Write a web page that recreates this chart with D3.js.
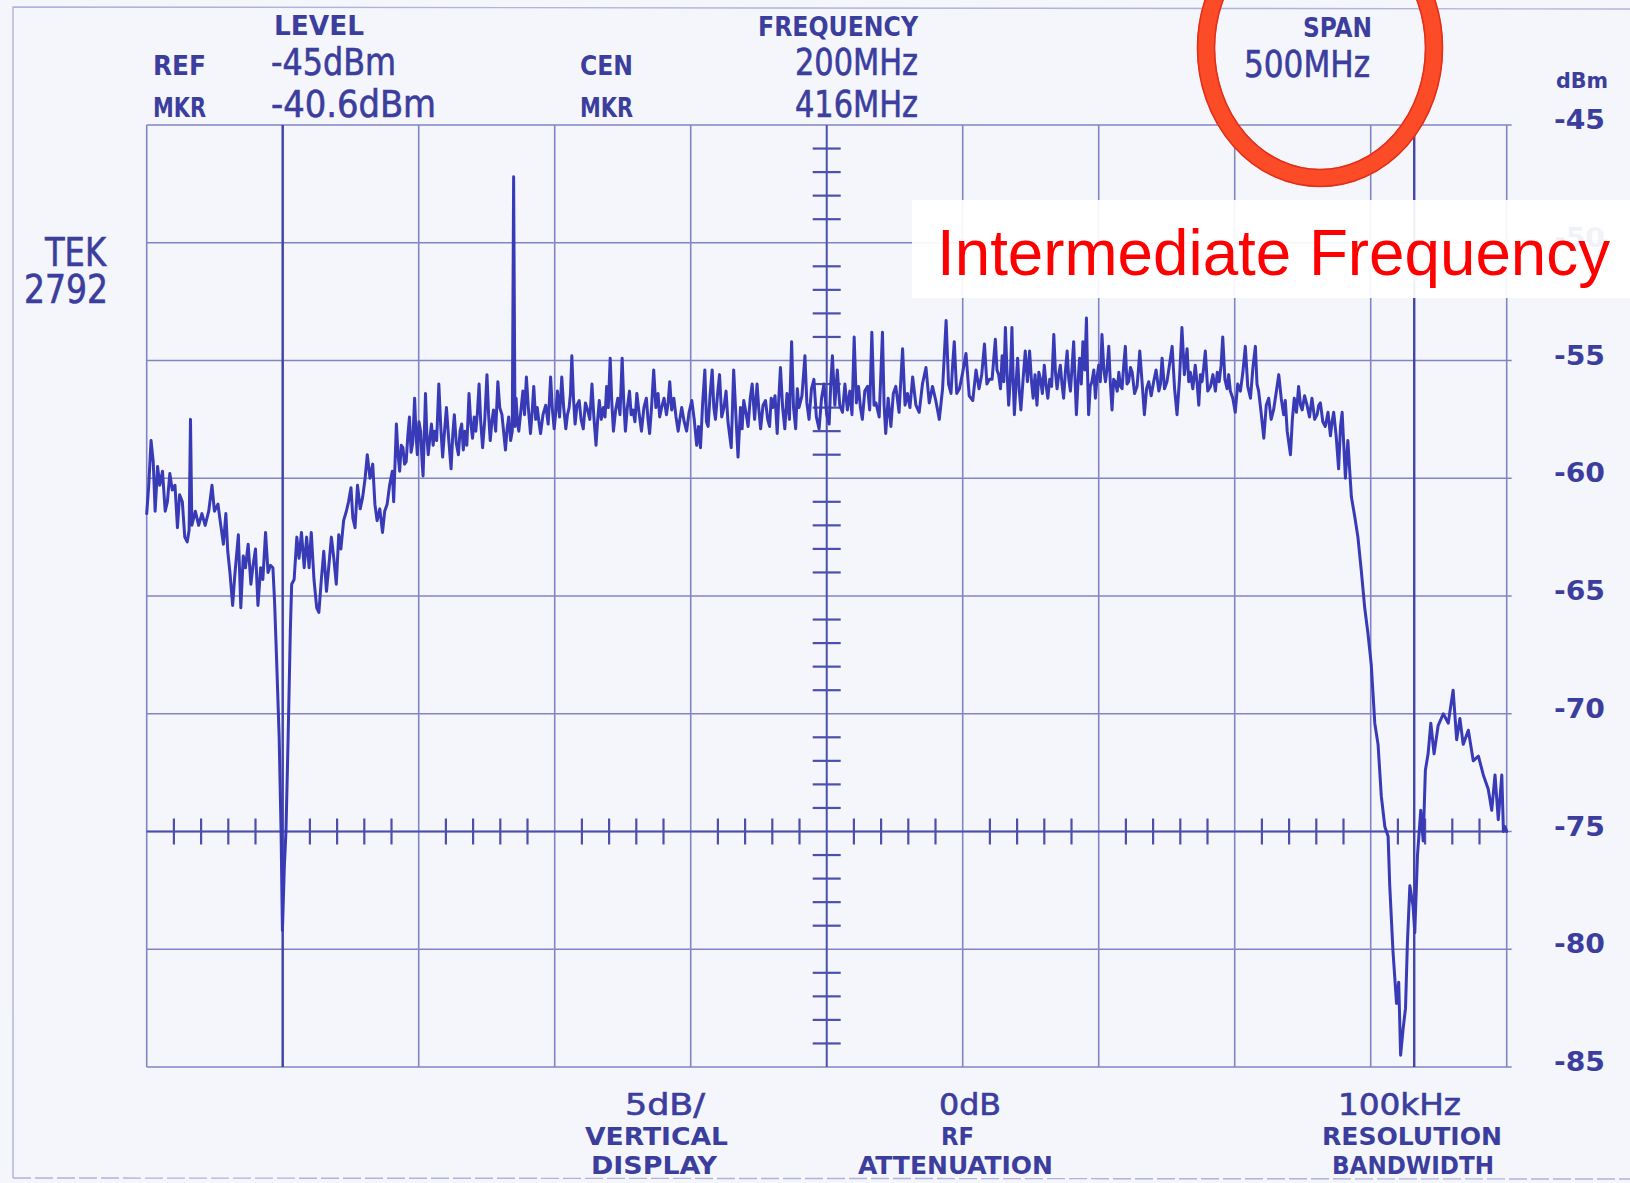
<!DOCTYPE html>
<html>
<head>
<meta charset="utf-8">
<script src="https://cdn.jsdelivr.net/npm/d3@7"></script>
<style>
  html, body { margin: 0; padding: 0; background: #f4f6fc; }
  svg { display: block; }
</style>
</head>
<body>
<svg id="chart" width="1630" height="1183"></svg>
<script>
// ---- Spectrum analyzer screen data (Tektronix 2792 plot) ----

// Frequency graticule (MHz) and level graticule (dBm)
const gridFreqs = [-50, 0, 50, 100, 150, 200, 250, 300, 350, 400, 450];
const levelTicks = [-45, -50, -55, -60, -65, -70, -75, -80, -85];
const markerFreqs = [0, 416];
const centerFreq = 200;
const tickedLevel = -75;

// Header readouts
const headerTitles = ["LEVEL", "FREQUENCY", "SPAN"];
const rowNames = ["REF", "MKR", "CEN", "MKR"];
const levelReadouts = ["-45dBm", "-40.6dBm"];
const freqReadouts = ["200MHz", "416MHz"];
const spanReadout = "500MHz";
const unitLabel = "dBm";
const instrumentId = ["TEK", "2792"];
const footerSettings = [
  ["5dB/", "VERTICAL", "DISPLAY"],
  ["0dB", "RF", "ATTENUATION"],
  ["100kHz", "RESOLUTION", "BANDWIDTH"]
];
const annotationText = "Intermediate Frequency";

// Trace samples: [frequency MHz, level dBm]
const traceSamples = [
  [-50.0,-61.5],[-49.3,-60.4],[-48.4,-58.4],[-47.6,-59.3],[-46.9,-61.4],[-46.0,-59.5],[-45.2,-60.3],[-44.2,-59.7],[-43.2,-61.4],[-42.4,-61.0],
  [-41.5,-59.8],[-40.6,-60.5],[-39.6,-60.3],[-38.7,-62.1],[-37.9,-60.7],[-36.9,-61.0],[-36.0,-62.5],[-35.1,-62.7],[-34.4,-62.2],[-33.9,-57.5],
  [-33.4,-62.0],[-32.1,-61.4],[-30.9,-62.0],[-29.7,-61.5],[-28.5,-62.0],[-27.2,-61.4],[-26.0,-60.3],[-25.1,-61.4],[-23.8,-61.1],[-23.0,-61.8],
  [-21.8,-62.8],[-20.9,-61.5],[-20.2,-63.1],[-19.4,-64.0],[-18.4,-65.4],[-17.6,-64.1],[-16.3,-62.4],[-15.4,-65.5],[-14.5,-63.3],[-13.7,-63.8],
  [-12.7,-62.8],[-11.7,-64.5],[-10.9,-63.7],[-10.0,-63.0],[-9.1,-65.4],[-8.1,-63.8],[-7.3,-64.3],[-6.3,-62.3],[-5.4,-64.0],[-4.5,-63.7],
  [-3.6,-63.8],[-3.0,-65.2],[-2.3,-67.5],[-1.3,-71.0],[-0.6,-75.0],[-0.1,-79.2],[0.6,-76.5],[1.2,-75.0],[2.0,-71.0],[2.8,-66.5],
  [3.3,-64.5],[4.2,-64.3],[5.2,-62.5],[6.0,-63.4],[6.9,-62.3],[7.9,-63.8],[8.8,-62.5],[9.7,-63.8],[10.5,-62.3],[11.5,-64.3],
  [12.5,-65.5],[13.3,-65.7],[14.2,-64.3],[15.1,-63.1],[16.1,-64.8],[16.9,-63.8],[17.9,-62.5],[18.8,-63.4],[19.7,-64.5],[20.6,-62.4],
  [21.4,-63.0],[22.4,-61.8],[23.4,-61.4],[24.2,-61.0],[25.1,-60.4],[25.8,-61.7],[26.6,-62.1],[27.5,-60.3],[28.5,-61.3],[29.4,-60.8],
  [30.3,-60.0],[31.1,-59.0],[32.1,-60.0],[33.1,-59.4],[33.9,-61.1],[34.7,-61.8],[35.7,-61.3],[36.7,-62.3],[37.5,-61.4],[38.4,-61.1],
  [39.3,-60.3],[40.3,-59.7],[40.8,-61.0],[41.8,-57.7],[42.4,-59.0],[43.0,-59.7],[43.6,-58.6],[44.2,-58.7],[44.8,-59.4],[45.4,-59.3],
  [46.0,-58.2],[46.6,-57.4],[47.2,-58.9],[47.8,-58.5],[48.5,-56.6],[49.0,-58.1],[49.5,-59.0],[50.1,-57.6],[50.7,-58.0],[51.2,-59.2],
  [51.6,-59.9],[52.1,-58.0],[52.5,-56.4],[53.0,-58.2],[53.5,-59.0],[54.1,-58.3],[54.7,-57.7],[55.3,-58.6],[55.9,-58.0],[56.6,-58.4],
  [57.4,-56.0],[58.1,-57.8],[58.8,-59.1],[59.5,-58.0],[60.2,-57.0],[61.0,-58.3],[61.9,-59.6],[62.5,-58.2],[63.1,-57.3],[63.8,-58.5],
  [64.6,-59.0],[65.2,-58.0],[65.8,-57.7],[66.4,-58.8],[67.0,-58.0],[67.7,-58.6],[68.5,-56.4],[69.1,-57.6],[69.8,-58.3],[70.4,-57.4],
  [71.0,-58.0],[71.6,-57.2],[72.2,-56.0],[72.8,-57.6],[73.5,-58.7],[74.3,-57.5],[75.1,-55.6],[75.7,-57.3],[76.3,-58.4],[76.9,-57.6],
  [77.5,-57.1],[78.3,-58.0],[79.1,-55.9],[79.8,-57.0],[80.6,-57.3],[81.2,-58.0],[81.9,-58.8],[82.5,-57.9],[83.1,-57.4],[83.8,-58.4],
  [84.4,-58.0],[84.9,-47.2],[85.4,-57.8],[85.8,-56.6],[86.3,-57.6],[86.8,-58.0],[87.5,-57.2],[88.3,-56.3],[88.9,-57.3],[89.6,-55.7],
  [90.3,-57.0],[91.1,-58.1],[91.7,-57.2],[92.3,-56.1],[93.0,-57.5],[93.6,-57.0],[94.2,-57.6],[94.8,-58.1],[95.7,-57.3],[96.7,-56.9],
  [97.6,-57.7],[98.5,-55.7],[99.1,-57.0],[99.8,-57.9],[100.4,-57.2],[101.0,-56.3],[101.8,-57.4],[102.6,-55.7],[103.3,-57.0],[104.1,-57.9],
  [104.7,-57.3],[105.3,-57.0],[105.8,-56.4],[106.3,-54.8],[106.9,-56.6],[107.5,-57.7],[108.2,-56.9],[109.0,-56.7],[109.7,-57.5],[110.5,-57.9],
  [111.3,-56.8],[112.1,-57.1],[112.9,-57.5],[113.7,-56.0],[114.4,-57.4],[115.2,-58.6],[115.8,-57.5],[116.4,-56.7],[117.1,-57.5],[117.9,-57.0],
  [118.5,-57.4],[119.1,-56.1],[119.7,-57.0],[120.4,-54.9],[121.0,-56.8],[121.6,-58.0],[122.4,-57.1],[123.2,-56.6],[124.0,-57.3],[124.8,-54.9],
  [125.4,-56.8],[126.0,-58.0],[126.7,-57.0],[127.5,-56.3],[128.1,-57.3],[128.8,-57.1],[129.5,-57.6],[130.2,-56.4],[131.0,-57.2],[131.9,-58.0],
  [132.8,-57.0],[133.7,-56.6],[134.3,-57.5],[134.9,-58.1],[135.6,-57.0],[136.4,-55.4],[137.2,-57.0],[138.0,-56.4],[138.6,-57.4],[139.3,-57.0],
  [140.2,-56.6],[141.1,-57.3],[141.7,-56.8],[142.3,-55.9],[143.0,-57.1],[143.8,-56.6],[144.6,-57.4],[145.4,-58.0],[146.0,-57.5],[146.7,-57.0],
  [147.6,-57.6],[148.5,-58.0],[149.4,-57.2],[150.4,-56.7],[151.3,-57.5],[152.2,-58.6],[152.9,-57.8],[153.6,-58.7],[154.4,-56.8],[155.2,-55.4],
  [155.8,-57.6],[156.4,-57.8],[157.1,-56.5],[157.9,-55.4],[158.5,-57.0],[159.1,-57.5],[159.9,-56.4],[160.6,-55.6],[161.4,-57.4],[162.2,-57.0],
  [163.0,-56.3],[163.7,-57.6],[164.9,-58.7],[165.8,-55.4],[166.6,-57.3],[167.4,-59.1],[168.3,-57.0],[168.9,-57.9],[169.5,-56.7],[170.3,-57.2],
  [171.1,-57.8],[171.9,-56.6],[172.6,-56.0],[173.5,-57.5],[174.4,-56.0],[175.0,-57.0],[175.7,-57.9],[176.6,-56.9],[177.5,-56.7],[178.3,-57.5],
  [179.0,-57.8],[179.6,-56.6],[180.2,-57.0],[181.0,-56.5],[181.8,-58.1],[182.4,-56.6],[183.0,-55.3],[183.8,-57.0],[184.6,-57.9],[185.4,-56.4],
  [186.3,-57.5],[187.1,-54.2],[187.8,-57.0],[188.6,-57.9],[189.2,-56.2],[189.8,-57.0],[190.9,-56.5],[192.0,-54.8],[192.7,-56.8],[193.5,-57.5],
  [194.4,-56.2],[195.3,-55.8],[196.2,-57.4],[197.2,-57.9],[198.1,-56.6],[199.0,-56.0],[200.0,-57.3],[200.9,-57.7],[201.5,-56.0],[202.1,-54.8],
  [203.0,-56.9],[203.9,-55.4],[204.8,-56.9],[205.8,-57.2],[206.7,-56.0],[207.6,-57.1],[208.5,-56.3],[209.3,-57.3],[210.1,-54.0],[210.9,-56.8],
  [211.7,-56.1],[212.4,-57.0],[213.1,-57.5],[214.0,-56.3],[215.0,-56.1],[215.8,-57.1],[216.6,-53.8],[217.4,-56.9],[218.1,-56.8],[219.3,-57.4],
  [220.5,-53.8],[221.1,-56.9],[221.7,-58.1],[222.6,-56.6],[223.6,-57.8],[224.5,-56.4],[225.4,-56.1],[226.6,-57.2],[227.9,-54.5],[228.8,-56.9],
  [229.7,-56.4],[230.6,-57.0],[231.6,-55.7],[232.8,-56.9],[234.0,-57.2],[235.2,-56.0],[236.5,-55.3],[237.7,-56.8],[238.9,-56.1],[240.1,-56.7],
  [241.4,-57.5],[242.6,-56.2],[243.9,-53.3],[244.8,-56.0],[245.7,-56.4],[246.3,-55.2],[246.9,-54.2],[247.8,-56.4],[248.8,-56.2],[250.0,-55.5],
  [251.2,-54.7],[252.4,-56.5],[253.7,-56.7],[254.9,-55.4],[256.0,-56.2],[257.0,-55.6],[258.0,-54.3],[258.9,-56.0],[259.8,-55.8],[260.8,-55.8],
  [262.0,-54.1],[262.6,-55.4],[263.2,-55.6],[263.9,-56.2],[264.5,-54.8],[265.1,-55.9],[265.7,-53.6],[266.3,-55.5],[266.9,-56.9],[267.5,-55.8],
  [268.1,-53.6],[268.6,-56.0],[269.0,-57.3],[269.6,-56.0],[270.2,-54.9],[270.8,-56.3],[271.4,-57.1],[272.2,-55.8],[273.0,-54.6],[273.8,-55.9],
  [274.6,-54.6],[275.3,-55.9],[275.9,-56.6],[276.6,-55.6],[277.3,-56.9],[278.0,-55.5],[278.6,-55.8],[279.3,-56.4],[280.0,-55.2],[280.7,-56.1],
  [281.3,-56.6],[282.0,-55.8],[282.7,-56.1],[283.5,-53.9],[284.1,-55.5],[284.7,-56.2],[285.3,-55.6],[285.9,-55.2],[286.5,-56.0],[287.1,-56.6],
  [287.8,-55.4],[288.4,-54.6],[289.0,-55.8],[289.6,-56.3],[290.2,-55.3],[290.8,-54.2],[291.3,-55.8],[291.8,-57.3],[292.4,-55.9],[293.0,-54.9],
  [293.6,-56.0],[294.2,-54.2],[294.9,-55.4],[295.5,-53.2],[295.9,-55.5],[296.3,-57.3],[296.9,-56.1],[297.5,-55.9],[298.2,-55.4],[298.8,-56.6],
  [299.4,-55.7],[300.0,-55.2],[300.6,-55.9],[301.2,-53.9],[301.9,-55.4],[302.5,-55.9],[303.1,-55.3],[303.7,-54.4],[304.3,-56.0],[304.9,-57.1],
  [305.5,-55.8],[306.1,-55.9],[306.8,-56.3],[307.4,-55.5],[308.0,-56.1],[308.6,-56.2],[309.2,-55.2],[309.8,-54.4],[310.4,-56.0],[311.0,-55.9],
  [311.7,-55.3],[312.3,-55.5],[313.2,-56.4],[314.1,-56.1],[314.6,-55.4],[315.1,-54.6],[316.0,-56.0],[316.8,-57.3],[317.6,-56.2],[318.4,-55.9],
  [319.3,-56.5],[320.2,-55.9],[321.1,-55.4],[322.1,-56.3],[322.7,-56.0],[323.3,-54.9],[324.2,-56.2],[325.1,-55.9],[326.0,-55.2],[327.0,-54.4],
  [327.9,-56.2],[328.8,-57.3],[329.7,-55.8],[330.6,-53.6],[331.5,-55.6],[332.5,-54.5],[333.1,-55.9],[333.7,-55.5],[334.6,-56.2],[335.5,-55.2],
  [336.2,-56.0],[336.8,-56.9],[337.4,-55.6],[338.0,-55.9],[338.6,-55.3],[339.2,-54.6],[340.1,-56.3],[341.1,-56.1],[342.0,-55.6],[342.9,-56.3],
  [343.6,-55.5],[344.3,-55.9],[345.0,-55.2],[345.6,-54.0],[346.4,-55.8],[347.2,-56.2],[347.8,-55.6],[348.4,-56.3],[349.3,-56.6],[350.2,-57.2],
  [351.1,-56.0],[352.1,-56.3],[353.0,-55.5],[353.9,-54.4],[354.8,-56.1],[355.8,-56.6],[356.7,-55.3],[357.6,-54.4],[358.2,-56.0],[358.8,-56.3],
  [359.7,-57.2],[360.7,-58.3],[361.6,-56.9],[362.5,-56.6],[363.4,-57.5],[364.3,-57.1],[365.2,-56.4],[366.2,-55.6],[367.1,-56.6],[368.0,-57.3],
  [368.6,-56.7],[369.3,-58.0],[370.5,-59.0],[371.2,-57.5],[371.9,-56.6],[372.7,-57.2],[373.5,-56.1],[374.2,-56.9],[374.8,-57.1],[375.7,-56.5],
  [376.6,-56.9],[377.5,-57.4],[378.4,-56.6],[379.4,-57.5],[380.3,-57.3],[380.9,-56.9],[381.5,-56.8],[382.4,-57.6],[383.3,-57.8],[384.3,-57.2],
  [385.2,-58.2],[385.8,-57.6],[386.4,-57.2],[387.3,-58.2],[388.2,-59.6],[388.9,-57.8],[389.5,-57.2],[390.1,-58.6],[390.7,-60.0],[391.6,-58.4],
  [392.9,-60.8],[394.1,-61.6],[395.3,-62.5],[396.6,-64.0],[397.8,-65.5],[399.0,-66.6],[400.2,-67.9],[401.5,-70.4],[402.7,-71.3],[403.9,-73.5],
  [405.2,-74.8],[406.4,-75.2],[407.0,-77.3],[408.2,-80.1],[409.5,-82.3],[410.3,-81.4],[411.0,-84.5],[411.9,-83.4],[412.8,-82.5],[413.5,-79.7],
  [414.4,-77.3],[415.6,-78.2],[416.2,-79.3],[417.2,-76.0],[418.4,-74.1],[419.3,-75.4],[420.1,-72.4],[421.1,-71.7],[422.1,-70.4],[423.3,-71.7],
  [424.8,-70.5],[426.7,-70.0],[428.5,-70.4],[430.3,-69.0],[431.6,-71.1],[432.8,-70.2],[434.0,-71.3],[435.9,-70.7],[437.7,-72.0],[439.6,-71.8],
  [441.4,-72.6],[443.2,-73.2],[444.5,-74.1],[445.7,-72.6],[446.9,-74.5],[448.2,-72.6],[448.8,-75.0],[449.4,-74.8],[450.0,-75.0]
];

// ---- Drawing ----
const svg = d3.select("#chart");
const INK = "#3c3e9e";
const GRID = "#6f72ba";
const FONT = "'DejaVu Sans Condensed', 'DejaVu Sans', sans-serif";

const x = d3.scaleLinear().domain([-50, 450]).range([146.7, 1506.7]);
const y = d3.scaleLinear().domain([-85, -45]).range([1067, 125]);

// paper frame
const frame = svg.append("g")
  .attr("stroke", "#9597cf").attr("stroke-width", 1.4).attr("fill", "none").attr("opacity", 0.7);
frame.append("path").attr("d", "M13,1178 L13,7 L1630,9");
frame.append("path").attr("d", "M13,1178 L1630,1179").attr("stroke-dasharray", "18 4");

// graticule
const grid = svg.append("g").attr("stroke", GRID).attr("stroke-width", 1.6).attr("opacity", 0.85);
grid.selectAll("line.h").data(levelTicks).join("line")
  .attr("x1", x(-50)).attr("x2", x(450) + 5)
  .attr("y1", d => y(d)).attr("y2", d => y(d));
grid.selectAll("line.v").data(gridFreqs).join("line")
  .attr("x1", d => x(d)).attr("x2", d => x(d))
  .attr("y1", y(-45)).attr("y2", y(-85));

// minor ticks on the ticked level line and the centre frequency line
const minorFreqs = d3.range(-50, 451, 10).filter(f => f % 50 !== 0);
const minorLevels = d3.range(-84, -45, 1).filter(l => l % 5 !== 0);
const ticks = svg.append("g").attr("stroke", "#4d50ab").attr("stroke-width", 2.2);
ticks.append("line")
  .attr("x1", x(-50)).attr("x2", x(450)).attr("y1", y(tickedLevel)).attr("y2", y(tickedLevel))
  .attr("stroke-width", 1.8);
ticks.selectAll("line.mf").data(minorFreqs).join("line")
  .attr("x1", d => x(d)).attr("x2", d => x(d))
  .attr("y1", y(tickedLevel) - 13).attr("y2", y(tickedLevel) + 13);
ticks.append("line")
  .attr("x1", x(centerFreq)).attr("x2", x(centerFreq)).attr("y1", y(-45)).attr("y2", y(-85))
  .attr("stroke-width", 1.8);
ticks.selectAll("line.ml").data(minorLevels).join("line")
  .attr("x1", x(centerFreq) - 14).attr("x2", x(centerFreq) + 14)
  .attr("y1", d => y(d)).attr("y2", d => y(d));

// marker lines
svg.append("g").attr("stroke", "#4244a8").attr("stroke-width", 2.4)
  .selectAll("line").data(markerFreqs).join("line")
  .attr("x1", d => x(d)).attr("x2", d => x(d))
  .attr("y1", y(-45)).attr("y2", y(-85));

// trace
const line = d3.line().x(d => x(d[0])).y(d => y(d[1]));
svg.append("path")
  .datum(traceSamples)
  .attr("d", line)
  .attr("fill", "none")
  .attr("stroke", "#383ab6")
  .attr("stroke-width", 3)
  .attr("stroke-linejoin", "round")
  .attr("stroke-linecap", "round");

// text helper: place text between x1..x2 with a given baseline and cap height
function place(txt, x1, x2, base, cap, weight) {
  const t = svg.append("text")
    .attr("x", x1).attr("y", base)
    .attr("font-family", FONT)
    .attr("font-size", (cap / 0.729).toFixed(1))
    .attr("font-weight", weight || "normal")
    .attr("fill", INK)
    .attr("textLength", x2 - x1)
    .attr("lengthAdjust", "spacingAndGlyphs")
    .text(txt);
  if (!weight) t.attr("stroke", INK).attr("stroke-width", 0.6);
  return t;
}

// header
place(headerTitles[0], 274, 364, 35, 19, "bold");
place(headerTitles[1], 758, 918, 36, 19, "bold");
place(headerTitles[2], 1303, 1372, 37, 19, "bold");
place(rowNames[0], 153, 206, 75, 20, "bold");
place(rowNames[1], 153, 206, 117, 20, "bold");
place(rowNames[2], 580, 633, 75, 20, "bold");
place(rowNames[3], 580, 633, 117, 20, "bold");
place(levelReadouts[0], 271, 396, 75, 27);
place(levelReadouts[1], 271, 436, 117, 27);
place(freqReadouts[0], 795, 918, 75, 27);
place(freqReadouts[1], 795, 918, 117, 27);
place(spanReadout, 1244, 1370, 77, 27);
place(unitLabel, 1556, 1608, 88, 16, "bold");

// instrument id
place(instrumentId[0], 45, 106, 266, 28);
place(instrumentId[1], 24, 108, 303, 28);

// level scale on the right
levelTicks.forEach(v => {
  place(String(v), 1554, 1605, y(v) + 4, 20, "bold");
});

// footer settings
const footerSpans = [
  [[625, 705], [585, 728], [591, 717]],
  [[939, 1001], [941, 974], [858, 1053]],
  [[1338, 1461], [1322, 1502], [1332, 1494]]
];
const footerBase = [1115, 1145, 1174];
const footerCap = [22, 18, 18];
footerSettings.forEach((col, i) => {
  col.forEach((t, j) => {
    place(t, footerSpans[i][j][0], footerSpans[i][j][1], footerBase[j], footerCap[j], j === 0 ? null : "bold");
  });
});

// annotation on a white panel (the level scale shows faintly through it)
svg.append("rect")
  .attr("x", 912).attr("y", 200).attr("width", 718).attr("height", 98)
  .attr("fill", "#ffffff").attr("opacity", 0.93);
svg.append("text")
  .attr("x", 937).attr("y", 275)
  .attr("font-family", "'Liberation Sans', Arial, sans-serif")
  .attr("font-size", 64)
  .attr("fill", "#ff0000")
  .attr("textLength", 673)
  .attr("lengthAdjust", "spacingAndGlyphs")
  .text(annotationText);

// highlight ring around the span readout
const ring = svg.append("g");
ring.append("ellipse")
  .attr("cx", 1320).attr("cy", 48).attr("rx", 114).attr("ry", 130)
  .attr("fill", "none").attr("stroke", "#fc4b27").attr("stroke-width", 18);
ring.append("ellipse")
  .attr("cx", 1320).attr("cy", 48).attr("rx", 122.5).attr("ry", 138.5)
  .attr("fill", "none").attr("stroke", "#e3301a").attr("stroke-width", 1.6);
ring.append("ellipse")
  .attr("cx", 1320).attr("cy", 48).attr("rx", 105.5).attr("ry", 121.5)
  .attr("fill", "none").attr("stroke", "#e3301a").attr("stroke-width", 1.6);
</script>
</body>
</html>
